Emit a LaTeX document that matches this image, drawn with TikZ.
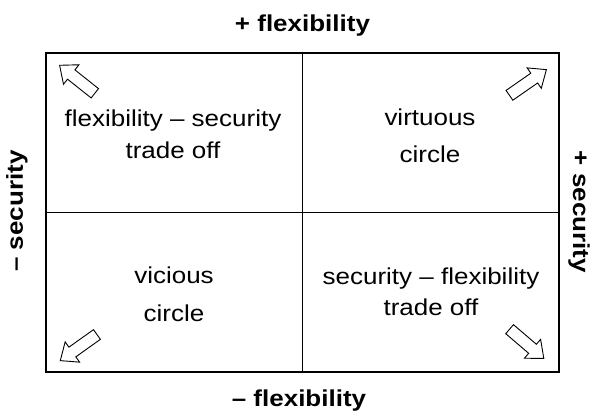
\documentclass[tikz,border=0pt]{standalone}
\usepackage{fontspec}
\setmainfont{Liberation Sans}[FakeStretch=1.13]
\usetikzlibrary{shapes.arrows}

\begin{document}
\begin{tikzpicture}[x=1pt,y=-1pt]
    % Define styles
    \tikzset{cell/.style={align=center,font=\fontsize{23}{31.6}\selectfont}}
    \tikzset{axis/.style={anchor=base,font=\fontsize{23}{27}\selectfont\bfseries}}
    \tikzset{bigarrow/.style={draw,single arrow,line width=0.9pt,inner xsep=0pt,inner ysep=5.5pt,minimum height=45pt,single arrow head extend=6.5pt,single arrow tip angle=80}}

    \useasboundingbox (0,0) rectangle (595,412); % Fix the page size

    % Draw the frame and the cross
    \draw[line width=1.3pt] (46,53) rectangle (559,372);
    \draw[line width=1.3pt] (302.5,53) -- (302.5,372);
    \draw[line width=1.3pt] (46,212.5) -- (559,212.5);

    % Quadrant texts
    \node[cell] (tradeflex) at (173,134.1) {flexibility -- security\\trade off};
    \node[cell,font=\fontsize{23}{36.7}\selectfont] (virtuous) at (430,135.9) {virtuous\\circle};
    \node[cell,font=\fontsize{23}{38.4}\selectfont] (vicious) at (174,294.2) {vicious\\circle};
    \node[cell,font=\fontsize{23}{30.5}\selectfont] (tradesec) at (431,291.6) {security -- flexibility\\trade off};

    % Axis labels
    \node[axis] (plusflex) at (302.5,31.7) {+ flexibility};
    \node[axis] (minusflex) at (299,406) {-- flexibility};
    \node[axis,rotate=90] (minussec) at (23,211) {-- security};
    \node[axis,rotate=-90] (plussec) at (573,212) {+ security};

    \foreach \name/\px/\py/\ang in {arrtl/80/81.5/141.5, arrtr/525/84.5/34.8, arrbl/81.5/345.5/215.5, arrbr/524/341.5/-40.5}    % Draw corner arrows
    {
        \node[bigarrow,rotate=\ang] (\name) at (\px,\py) {};
    }
\end{tikzpicture}
\end{document}
